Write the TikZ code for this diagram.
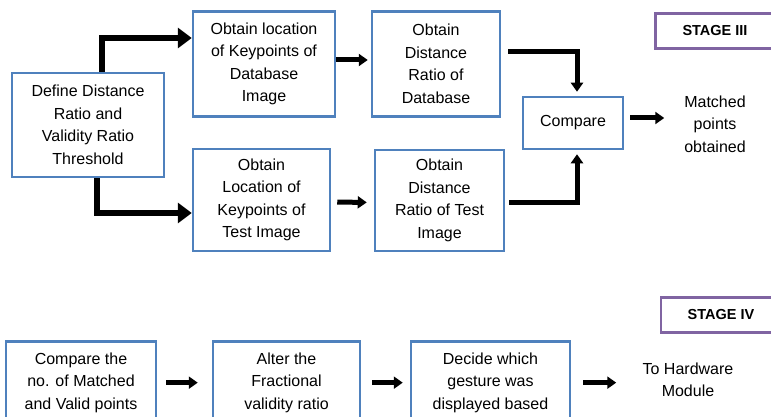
\documentclass[tikz,border=0pt]{standalone}
\usepackage{fontspec}
\setmainfont{Liberation Sans}
\usetikzlibrary{arrows.meta}

\definecolor{boxblue}{RGB}{79,129,189}
\definecolor{stagepurple}{RGB}{128,100,162}

\tikzset{
	box/.style={draw=boxblue, line width=2.5pt, align=center, inner sep=0pt,
		font=\fontsize{16}{22.5}\selectfont},
	stagebox/.style={draw=stagepurple, line width=2.5pt, inner sep=0pt,
		font=\fontsize{14.5}{16}\selectfont\bfseries},
	txt/.style={align=center, inner sep=0pt, font=\fontsize{16}{22.5}\selectfont},
	bigarr/.style={line width=6.5pt, line join=miter, -{Triangle[width=20pt, length=14pt]}},
	arr/.style={line width=5pt, line join=miter, -{Triangle[width=12pt, length=9pt]}}
}

\begin{document}
\begin{tikzpicture}[x=1pt, y=-1pt]
	\useasboundingbox (0, 0) rectangle (771, 417);
	\clip (0, 0) rectangle (771, 417);

	% Stage III:
	\node[box, minimum width=152, minimum height=104] (def) at (88, 125)
		{Define Distance\\Ratio and\\Validity Ratio\\Threshold};
	\node[box, minimum width=142, minimum height=105] (locdb) at (264, 64)
		{Obtain location\\of Keypoints of\\Database\\Image};
	\node[box, minimum width=137, minimum height=102] (loctest) at (261.5, 200)
		{Obtain\\Location of\\Keypoints of\\Test Image};
	\node[box, minimum width=128, minimum height=105] (disdb) at (436, 64)
		{Obtain\\Distance\\Ratio of\\Database};
	\node[box, minimum width=129, minimum height=101] (distest) at (439.5, 200.5)
		{Obtain\\Distance\\Ratio of Test\\Image};
	\node[box, minimum width=100, minimum height=52] (cmp) at (573, 123) {Compare};
	\node[txt] (matched) at (715, 124) {Matched\\points\\obtained};
	\node[stagebox, minimum width=119, minimum height=35] (stthree) at (715, 31) {STAGE III};

	% Stage IV:
	\node[box, minimum width=150, minimum height=100, anchor=north] (cmpbox) at (81, 340) {};
	\node[box, minimum width=147, minimum height=100, anchor=north] (altbox) at (286.5, 340) {};
	\node[box, minimum width=159, minimum height=100, anchor=north] (decbox) at (490.5, 340) {};
	\node[txt, anchor=north] (cmpt) at (81, 352.5) {Compare the\\no. of Matched\\and Valid points};
	\node[txt, anchor=north] (altt) at (286.5, 352.5) {Alter the\\Fractional\\validity ratio};
	\node[txt, anchor=north] (dect) at (490.5, 352.5) {Decide which\\gesture was\\displayed based};
	\node[txt] (hw) at (688, 380) {To Hardware\\Module};
	\node[stagebox, minimum width=120, minimum height=35] (stfour) at (721, 315) {STAGE IV};

	% Arrows:
	\draw[bigarr] ([xshift=14pt]def.north) |- ([yshift=26pt]locdb.west);
	\draw[bigarr] ([xshift=9pt]def.south) |- ([yshift=-13pt]loctest.west);
	\draw[arr, shorten >=3pt] ([yshift=4pt]locdb.east) -- ([yshift=4pt]disdb.west);
	\draw[arr, shorten <=6pt, shorten >=7pt] ([yshift=-2pt]loctest.east) -- ([yshift=-2pt]distest.west);
	\draw[arr, shorten <=7pt, shorten >=4pt] ([yshift=12pt]disdb.east) -| ([xshift=4pt]cmp.north);
	\draw[arr, shorten <=4pt, shorten >=4pt] ([yshift=-2pt]distest.east) -| ([xshift=4pt]cmp.south);
	\draw[arr] ([xshift=6pt, yshift=5pt]cmp.east) -- ++(34, 0);

	\draw[arr] ([xshift=9pt]cmpbox.east |- cmpt) -- ([xshift=-14pt]altbox.west |- cmpt);
	\draw[arr] ([xshift=11pt]altbox.east |- altt) -- ([xshift=-7pt]decbox.west |- altt);
	\draw[arr] ([xshift=12pt]decbox.east |- dect) -- ++(33, 0);
\end{tikzpicture}
\end{document}
